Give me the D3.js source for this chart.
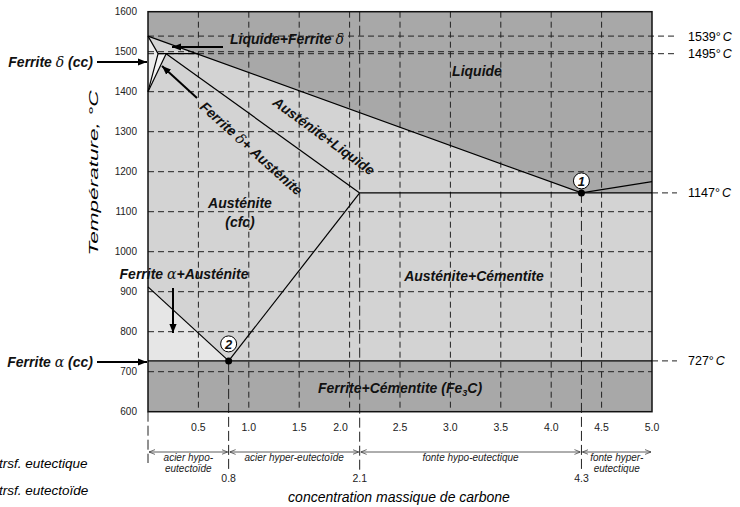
<!DOCTYPE html>
<html>
<head>
<meta charset="utf-8">
<script src="https://cdn.jsdelivr.net/npm/d3@7"></script>
<style>
  body { margin: 0; background: #fff; }
  svg { font-family: "Liberation Sans", Arial, sans-serif; }
  .lbl { font-weight: bold; font-style: italic; font-size: 14px; fill: #111; }
  .greek { font-family: "DejaVu Serif", serif; font-weight: normal; font-style: italic; }
</style>
</head>
<body>
<div class="chart"></div>
<script>
// Données du diagramme Fe-C
var xTicks = [0.5, 1.0, 1.5, 2.0, 2.5, 3.0, 3.5, 4.0, 4.5, 5.0];
var yTicks = [600, 700, 800, 900, 1000, 1100, 1200, 1300, 1400, 1500, 1600];
var gridC = [0.5, 1.0, 1.5, 2.0, 2.5, 3.0, 3.5, 4.0, 4.5];
var gridT = [700, 800, 900, 1000, 1100, 1200, 1300, 1400, 1500];
var specialT = [1539, 1495, 1147, 727];
var specialC = [0.8, 2.1, 4.3];

var liquidus = [[0, 1539], [4.3, 1147], [5.0, 1175]];
var solidus = [[0.18, 1495], [2.1, 1147]];
var peritectic = [[0.1, 1495], [0.5, 1495]];
var deltaSolidus = [[0, 1539], [0.1, 1495], [0, 1400]];
var deltaGamma = [[0.18, 1495], [0, 1400]];
var a3 = [[0, 912], [0.8, 727]];
var acm = [[0.8, 727], [2.1, 1147]];
var eutectoid = [[0, 727], [5.0, 727]];
var eutectic = [[2.1, 1147], [5.0, 1147]];
var points = [[4.3, 1147, "1"], [0.8, 727, "2"]];

var austeniteZone = [[0, 1539], [4.3, 1147], [5.0, 1147], [5.0, 727], [0, 727]];
var alphaGammaZone = [[0, 912], [0.8, 727], [0, 727]];
var deltaZone = [[0, 1539], [0.1, 1495], [0, 1400]];
var deltaGammaZone = [[0.1, 1495], [0.18, 1495], [0, 1400]];

var domains = ["acier hypo-|eutectoïde", "acier hyper-eutectoïde", "fonte hypo-eutectique", "fonte hyper-|eutectique"];
var domainBounds = [0, 0.8, 2.1, 4.3, 5.0];

var svg = d3.select(".chart").append("svg")
  .attr("width", 740).attr("height", 507);

var x = d3.scaleLinear().domain([0, 5]).range([148, 652]);
var y = d3.scaleLinear().domain([600, 1600]).range([411.7, 11.7]);
var line = d3.line().x(d => x(d[0])).y(d => y(d[1]));

// fonds
svg.append("rect").attr("x", x(0)).attr("y", y(1600))
  .attr("width", x(5) - x(0)).attr("height", y(600) - y(1600))
  .attr("fill", "#a8a8a8");
svg.append("path").attr("d", line(austeniteZone) + "Z").attr("fill", "#d3d3d3");
svg.append("path").attr("d", line(alphaGammaZone) + "Z").attr("fill", "#e6e6e6");
svg.append("path").attr("d", line(deltaZone) + "Z").attr("fill", "#ececec");
svg.append("path").attr("d", line(deltaGammaZone) + "Z").attr("fill", "#f2f2f2");

// grille
var grid = svg.append("g").attr("stroke", "#222").attr("stroke-width", 1)
  .attr("stroke-dasharray", "6,4").attr("fill", "none");
gridC.forEach(c => grid.append("line")
  .attr("x1", x(c)).attr("x2", x(c)).attr("y1", y(1600)).attr("y2", y(600)));
gridT.forEach(t => grid.append("line")
  .attr("x1", x(0)).attr("x2", x(5)).attr("y1", y(t)).attr("y2", y(t)));
[1539, 1495].forEach(t => grid.append("line")
  .attr("x1", x(0)).attr("x2", 677).attr("y1", y(t)).attr("y2", y(t)));
[1147, 727].forEach(t => grid.append("line")
  .attr("x1", x(5)).attr("x2", 677).attr("y1", y(t)).attr("y2", y(t)));
grid.append("line").attr("x1", x(2.1)).attr("x2", x(2.1))
  .attr("y1", y(1600)).attr("y2", 470).attr("stroke-dasharray", "10,4");
grid.append("line").attr("x1", x(0.8)).attr("x2", x(0.8))
  .attr("y1", y(727)).attr("y2", 470).attr("stroke-dasharray", "10,4");
grid.append("line").attr("x1", x(4.3)).attr("x2", x(4.3))
  .attr("y1", y(1147)).attr("y2", 470).attr("stroke-dasharray", "10,4");
grid.append("line").attr("x1", x(0)).attr("x2", x(0))
  .attr("y1", y(600)).attr("y2", 463).attr("stroke-dasharray", "10,4");

// cadre
svg.append("rect").attr("x", x(0)).attr("y", y(1600))
  .attr("width", x(5) - x(0)).attr("height", y(600) - y(1600))
  .attr("fill", "none").attr("stroke", "#111").attr("stroke-width", 1.5);

// lignes de phase
[liquidus, solidus, peritectic, deltaSolidus, deltaGamma, a3, acm, eutectoid, eutectic]
  .forEach(p => svg.append("path").attr("d", line(p))
    .attr("fill", "none").attr("stroke", "#000").attr("stroke-width", 1.2));

// points
points.forEach(p => {
  svg.append("circle").attr("cx", x(p[0])).attr("cy", y(p[1])).attr("r", 3.5).attr("fill", "#000");
  var cy = p[2] == "1" ? y(p[1]) - 12 : y(p[1]) - 17;
  svg.append("circle").attr("cx", x(p[0])).attr("cy", cy).attr("r", 8)
    .attr("fill", "#fff").attr("stroke", "#000").attr("stroke-width", 1);
  svg.append("text").attr("x", x(p[0])).attr("y", cy + 5).attr("text-anchor", "middle")
    .attr("class", "lbl").style("font-size", "13px").text(p[2]);
});

// axes (étiquettes seulement)
yTicks.forEach(t => svg.append("text").attr("x", 137).attr("y", y(t) + 3.5)
  .attr("text-anchor", "end").attr("font-size", 10).attr("fill", "#222").text(t));
xTicks.forEach(c => svg.append("text").attr("x", x(c) + (c == 2.0 ? -9 : 0)).attr("y", 431)
  .attr("text-anchor", "middle").attr("font-size", 10.5).attr("fill", "#222").text(d3.format(".1f")(c)));
specialC.forEach(c => svg.append("text").attr("x", x(c)).attr("y", 482)
  .attr("text-anchor", "middle").attr("font-size", 10.5).attr("fill", "#222").text(c));

svg.append("text").attr("transform", "translate(98,173) rotate(-90)")
  .attr("text-anchor", "middle").attr("font-size", 13).attr("font-style", "italic")
  .attr("textLength", 165).attr("lengthAdjust", "spacingAndGlyphs")
  .text("Température, °C");
svg.append("text").attr("x", 399).attr("y", 502).attr("text-anchor", "middle")
  .attr("font-size", 14).attr("font-style", "italic").text("concentration massique de carbone");

// températures à droite
specialT.forEach(t => {
  var tx = svg.append("text").attr("x", 688).attr("y", y(t) + 4.5).attr("font-size", 12.5);
  tx.append("tspan").text(t + "°");
  tx.append("tspan").attr("font-style", "italic").attr("dx", 2).text("C");
});

// flèches
var defs = svg.append("defs");
defs.append("marker").attr("id", "head").attr("viewBox", "0 0 10 10")
  .attr("refX", 10).attr("refY", 5).attr("markerWidth", 9).attr("markerHeight", 9)
  .attr("markerUnits", "userSpaceOnUse").attr("orient", "auto")
  .append("path").attr("d", "M0,1 L10,5 L0,9 Z").attr("fill", "#000");
defs.append("marker").attr("id", "small").attr("viewBox", "0 0 10 10")
  .attr("refX", 10).attr("refY", 5).attr("markerWidth", 6).attr("markerHeight", 6)
  .attr("markerUnits", "userSpaceOnUse").attr("orient", "auto-start-reverse")
  .append("path").attr("d", "M0,1 L10,5 L0,9").attr("fill", "none").attr("stroke", "#333").attr("stroke-width", 1.2);

function arrow(x1, y1, x2, y2) {
  svg.append("line").attr("x1", x1).attr("y1", y1).attr("x2", x2).attr("y2", y2)
    .attr("stroke", "#000").attr("stroke-width", 2).attr("marker-end", "url(#head)");
}
arrow(97, 62, 147, 62);
arrow(97, 362, 147, 362);
arrow(223, 47, 172, 47);
arrow(197, 98, 162, 66);
arrow(173, 288, 173, 333);

// domaines sous l'axe
domains.forEach((d, i) => {
  var a = x(domainBounds[i]), b = x(domainBounds[i + 1]);
  svg.append("line").attr("x1", a + 1).attr("x2", b - 1).attr("y1", 452).attr("y2", 452)
    .attr("stroke", "#333").attr("stroke-width", 0.8)
    .attr("marker-start", "url(#small)").attr("marker-end", "url(#small)");
  var parts = d.split("|");
  parts.forEach((p, j) => svg.append("text").attr("x", (a + b) / 2).attr("y", 461 + j * 11)
    .attr("text-anchor", "middle").attr("font-size", 10).attr("font-style", "italic")
    .attr("fill", "#222").text(p));
});

svg.append("text").attr("x", -1).attr("y", 468).attr("font-size", 13.5).attr("font-style", "italic").text("trsf. eutectique");
svg.append("text").attr("x", -1).attr("y", 495).attr("font-size", 13.5).attr("font-style", "italic").text("trsf. eutectoïde");

// étiquettes des phases
function label(tx, ty, parts, rot, anchor) {
  var t = svg.append("text").attr("class", "lbl").attr("text-anchor", anchor || "middle")
    .attr("transform", `translate(${tx},${ty}) rotate(${rot || 0})`);
  parts.forEach(p => {
    var s = t.append("tspan").text(p[0]);
    if (p[1] == "g") s.attr("class", "greek");
    if (p[1] == "sub") s.attr("font-size", 9).attr("dy", 3);
    if (p[1] == "up") s.attr("dy", -3);
  });
  return t;
}
label(230, 44, [["Liquide+Ferrite "], ["δ", "g"]], 0, "start");
label(477, 76, [["Liquide"]]);
label(93, 67, [["Ferrite "], ["δ", "g"], [" (cc)"]], 0, "end");
label(93, 367, [["Ferrite "], ["α", "g"], [" (cc)"]], 0, "end");
label(248, 152, [["Ferrite "], ["δ", "g"], ["+ Austénite"]], 42);
label(321, 140, [["Austénite+Liquide"]], 36);
label(240, 208, [["Austénite"]]);
label(240, 227, [["(cfc)"]]);
label(184, 279, [["Ferrite "], ["α", "g"], ["+Austénite"]]);
label(474, 281, [["Austénite+Cémentite"]]);
label(400, 393, [["Ferrite+Cémentite (Fe"], ["3", "sub"], ["C)", "up"]]);
</script>
</body>
</html>
